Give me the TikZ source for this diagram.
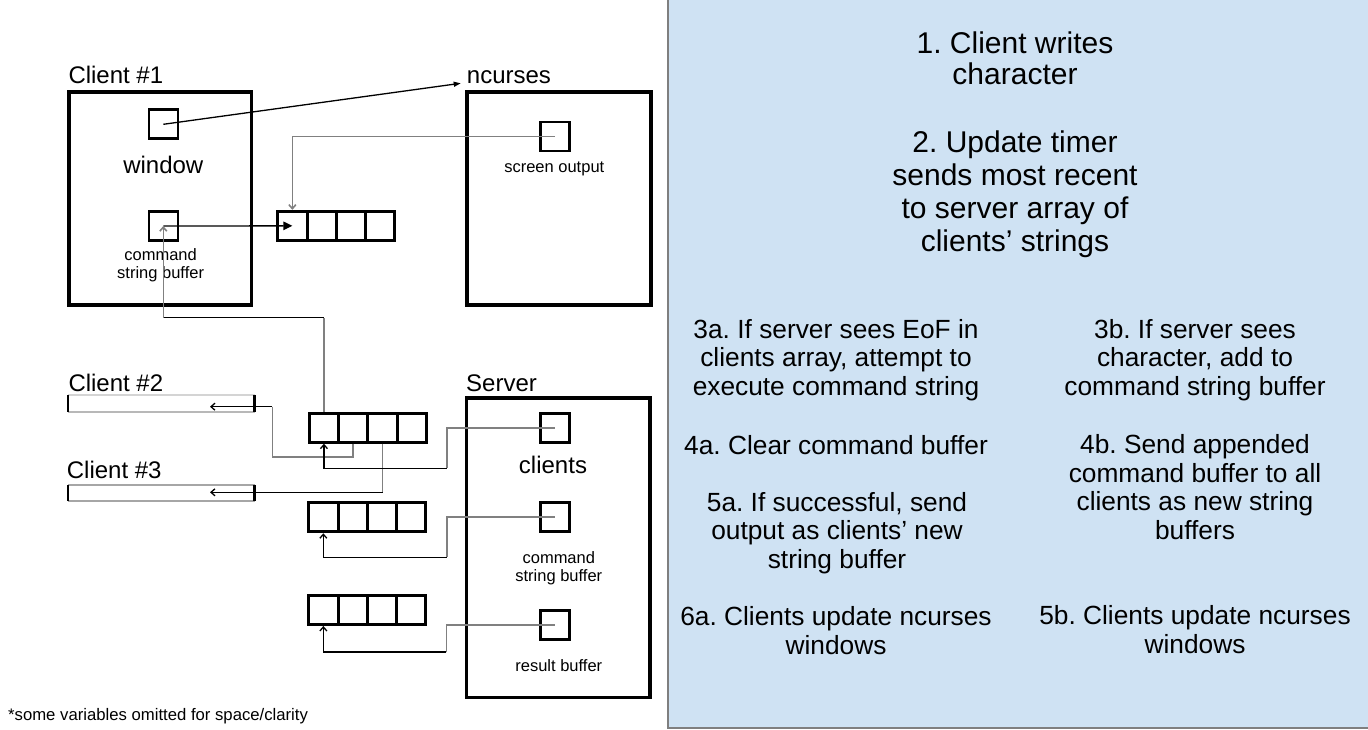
\documentclass[tikz,border=0pt]{standalone}
\usepackage{fontspec}
\setmainfont{Liberation Sans}
\usetikzlibrary{arrows.meta}
\definecolor{panel}{HTML}{CFE2F3}
\definecolor{panelborder}{HTML}{7F7F7F}
\definecolor{wirecol}{HTML}{808080}
\definecolor{barlight}{HTML}{D4D4D4}
\definecolor{barmid}{HTML}{A6A6A6}
\frenchspacing
\begin{document}
\frenchspacing
\begin{tikzpicture}[x=1pt,y=-1pt,
  bigbox/.style={draw, line width=3.7pt, inner sep=0pt},
  sq/.style={draw, line width=2.6pt, minimum size=29pt, inner sep=0pt},
  cell/.style={draw, line width=3pt, minimum width=29.3pt, minimum height=29pt, inner sep=0pt},
  lbl/.style={font=\fontsize{24}{28}\selectfont, inner sep=0pt, anchor=base west},
  mid/.style={font=\fontsize{24}{28}\selectfont, inner sep=0pt, anchor=base},
  small/.style={font=\fontsize{16.5}{18.5}\selectfont, inner sep=0pt, anchor=base, align=center},
  wire/.style={draw=wirecol, line width=1.6pt},
  blk/.style={draw=black, line width=1.3pt},
  opentip/.style={-{Straight Barb[length=4pt,width=7pt]}},
  ptop/.style={font=\fontsize{30}{33}\selectfont\frenchspacing, align=center, anchor=base, inner sep=0pt},
  pbot/.style={font=\fontsize{26.3}{28.5}\selectfont\frenchspacing, align=center, anchor=base, inner sep=0pt},
  barnode/.style={minimum width=186pt, inner sep=0pt},
  tick/.style={draw=black, line width=2.6pt}
]
\useasboundingbox (0,0) rectangle (1368,730);

% right panel
\fill[panel] (668.3,-5) rectangle (1375,727.7);
\draw[panelborder, line width=2pt] (668.3,-5) -- (668.3,727.7) -- (1375,727.7);

% big boxes
\node[bigbox, minimum width=182.5pt, minimum height=213pt] (cli1) at (160.3,198.5) {};
\node[bigbox, minimum width=183.4pt, minimum height=213pt] (ncbox) at (559,198.5) {};
\node[bigbox, minimum width=183.5pt, minimum height=299.5pt] (srv) at (558.3,547.75) {};

% labels
\node[lbl] (l1) at (68.3,84) {Client \#1};
\node[lbl] (lnc) at (466.7,83.3) {ncurses};
\node[lbl] (l2) at (68.3,391.7) {Client \#2};
\node[lbl] (l3) at (66.7,478.3) {Client \#3};
\node[lbl] (lsrv) at (466,391) {Server};

% small squares
\node[sq] (win) at (163.3,124.3) {};
\node[sq] (cmd) at (163.3,226) {};
\node[sq] (scr) at (555,136.5) {};
\node[sq] (srvc) at (554.7,428) {};
\node[sq] (srvcmd) at (554.7,516.7) {};
\node[sq] (srvres) at (554.7,625) {};

\node[mid] (twin) at (163.3,173.3) {window};
\node[small] (tcmd1) at (160.6,260) {command};
\node[small] (tcmd2) at (160.6,278.3) {string buffer};
\node[small] (tscr) at (554.3,172.7) {screen output};
\node[mid] (tcli) at (553,473.3) {clients};
\node[small] (tscmd1) at (558.8,563.3) {command};
\node[small] (tscmd2) at (558.8,581.7) {string buffer};
\node[small] (tsres) at (558.8,671.7) {result buffer};

% arrays
\foreach \i in {1,2,3,4} {
  \node[cell] (t\i) at ({277.7+14.65+(\i-1)*29.3},225.85) {};
  \node[cell] (a\i) at ({309.3+14.65+(\i-1)*29.3},427.7) {};
  \node[cell] (b\i) at ({308.7+14.65+(\i-1)*29.3},517.3) {};
  \node[cell] (r\i) at ({308.7+14.65+(\i-1)*29.3},610) {};
}

% client bars
\node[barnode, minimum height=16.7pt] (bar2) at (161.3,403.35) {};
\draw[barlight, line width=1.4pt] (bar2.north west) -- (bar2.north east);
\draw[barmid!80, line width=1.4pt] (bar2.south west) -- (bar2.south east);
\draw[tick] (bar2.north west) -- (bar2.south west);
\draw[tick] (bar2.north east) -- (bar2.south east);
\node[barnode, minimum height=15.7pt] (bar3) at (161.3,492.85) {};
\draw[barmid, line width=1.4pt] (bar3.north west) -- (bar3.north east);
\draw[barmid, line width=1.4pt] (bar3.south west) -- (bar3.south east);
\draw[tick] (bar3.north west) -- (bar3.south west);
\draw[tick] (bar3.north east) -- (bar3.south east);

% connectors
\draw[blk, line width=1.3pt, -{Triangle[length=7pt,width=5pt]}] (win.center) -- ([xshift=-6pt]lnc.base west);
\draw[blk, line width=1.3pt, -{Triangle[length=9pt,width=8.5pt]}] (cmd.center) -- (t1.center);
\draw[wire, opentip] (scr.center) -| (t1.north);

\coordinate (k1a) at (323.95,317.7);
\coordinate (k1b) at (163.3,317.7);
\draw[wire] (a1.north) -- (k1a);
\draw[blk, line width=1.3pt] (k1a) -- (k1b);
\draw[wire, opentip] (k1b) -- (cmd.center);

\coordinate (k2a) at (272.3,456.7);
\coordinate (k2b) at (272.3,406.7);
\coordinate (in2) at (210,406.7);
\draw[wire] (a2.south) |- (k2a) -- (k2b);
\draw[blk, line width=1.3pt, opentip] (k2b) -- (in2);

\coordinate (k3) at (382.55,492.3);
\coordinate (in3) at (210,492.3);
\draw[wire] (a3.south) -- (k3);
\draw[blk, line width=1.3pt, opentip] (k3) -- (in3);

\coordinate (s1a) at (446.7,428);
\coordinate (s1b) at (446.7,468.3);
\draw[wire] (srvc.center) -- (s1a) -- (s1b);
\draw[blk, line width=1.3pt, opentip] (s1b) -| (a1.south);

\coordinate (s2a) at (446.7,516.7);
\coordinate (s2b) at (446.7,557.3);
\draw[wire] (srvcmd.center) -- (s2a) -- (s2b);
\draw[blk, line width=1.3pt, opentip] (s2b) -| (b1.south);

\coordinate (s3a) at (446.3,625);
\coordinate (s3b) at (446.3,652);
\draw[wire] (srvres.center) -- (s3a) -- (s3b);
\draw[blk, line width=1.3pt, opentip] (s3b) -| (r1.south);

% footnote
\node[font=\fontsize{16.7}{19}\selectfont, inner sep=0pt, anchor=base west] (foot) at (8,720) {*some variables omitted for space/clarity};

% panel text (anchor base = last line baseline)
\node[ptop, font=\fontsize{30}{31.7}\selectfont] (p1) at (1015,85) {1. Client writes\\character};
\node[ptop] (p2) at (1015,251.7) {2. Update timer\\sends most recent\\to server array of\\clients’ strings};
\node[pbot] (p3a) at (836,395) {3a. If server sees EoF in\\clients array, attempt to\\execute command string};
\node[pbot] (p3b) at (1195,395) {3b. If server sees\\character, add to\\command string buffer};
\node[pbot] (p4a) at (836,454) {4a. Clear command buffer};
\node[pbot] (p4b) at (1195,539.3) {4b. Send appended\\command buffer to all\\clients as new string\\buffers};
\node[pbot] (p5a) at (837,568.3) {5a. If successful, send\\output as clients’ new\\string buffer};
\node[pbot] (p6a) at (836,654) {6a. Clients update ncurses\\windows};
\node[pbot] (p5b) at (1195,653) {5b. Clients update ncurses\\windows};
\end{tikzpicture}
\end{document}
